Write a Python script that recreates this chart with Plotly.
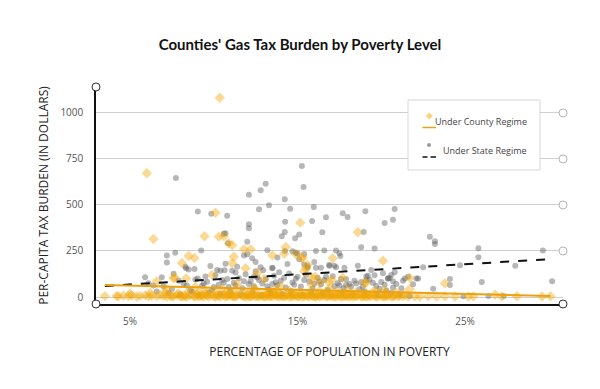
import plotly.graph_objects as go

# ---------------- data ----------------
# Under State Regime (gray circles): (percent in poverty, per-capita burden $)
state_points = [
    (7.74, 647), (9.05, 464), (9.85, 453), (10.8, 441), (12.1, 556), (12.8, 580), (13.1, 616),
    (12.7, 477), (13.3, 498), (12.1, 395), (12.1, 373), (15.26, 712), (15.36, 598), (14.24, 531),
    (14.56, 480), (15.97, 489), (14.26, 409), (14.24, 353), (14.06, 330), (14.86, 319), (15.1, 339),
    (15.87, 413), (16.7, 433), (16.48, 352), (17.7, 455), (17.99, 435), (10.6, 344), (10.7, 346),
    (10.85, 292), (7.2, 225), (7.2, 187), (7.7, 241), (8.3, 165), (8.5, 150), (8.85, 152),
    (9.25, 252), (10.7, 181), (9.8, 168), (11.8, 226), (12.0, 232), (12.5, 190), (13.2, 254),
    (14.25, 250), (12.8, 161), (12.95, 145), (13.5, 159), (14.7, 248), (14.9, 239), (15.4, 234),
    (15.0, 236), (16.1, 250), (16.6, 252), (17.3, 252), (17.5, 237), (15.4, 176), (15.6, 168),
    (16.1, 159), (16.4, 159), (16.9, 170), (17.2, 170), (17.56, 223), (19.05, 466), (20.8, 478),
    (20.7, 420), (20.2, 402), (18.95, 353), (18.8, 270), (19.6, 263), (22.9, 328), (23.2, 303),
    (23.2, 288), (25.8, 265), (25.8, 216), (29.65, 252), (28.0, 170), (22.5, 161), (24.7, 172),
    (22.2, 100), (21.9, 69), (24.1, 98), (24.1, 65), (26.0, 82), (30.2, 85), (23.1, 45),
    (12.0, 300), (5.9, 107), (6.9, 107), (6.1, 75), (6.4, 62), (7.6, 126), (8.35, 156),
    (9.5, 112), (9.05, 100), (10.2, 147), (10.4, 143), (10.65, 145), (11.1, 142), (11.3, 133),
    (20.8, 134), (20.4, 101), (21.4, 101), (21.6, 110), (13.5, 156), (17.8, 159), (17.3, 161),
    (16.9, 174), (15.6, 159), (19.1, 112), (19.2, 115), (22.1, 101), (20.5, 103), (20.6, 120),
    (20.7, 85), (19.9, 45), (17.75, 47), (17.9, 65), (18.1, 70), (18.2, 56), (18.9, 56),
    (19.5, 78), (18.6, 170), (19.4, 147), (20.1, 129), (20.4, 101), (12.3, 210), (13.8, 215),
    (21.7, 5), (26.4, 5), (27.3, 6), (24.9, 4),
    (7.0, 58), (7.5, 44), (7.9, 88), (8.2, 72), (8.6, 36), (8.9, 95), (9.3, 61), (9.6, 83),
    (9.9, 40), (10.1, 118), (10.3, 66), (10.5, 92), (10.9, 54), (11.2, 77), (11.5, 102),
    (11.7, 48), (11.9, 123), (12.2, 86), (12.4, 59), (12.6, 108), (12.9, 73), (13.1, 96),
    (13.3, 41), (13.6, 115), (13.8, 64), (14.0, 88), (14.3, 52), (14.5, 128), (14.7, 79),
    (14.9, 99), (15.2, 57), (15.5, 121), (15.7, 84), (15.9, 46), (16.2, 105), (16.4, 68),
    (16.6, 93), (16.8, 38), (17.1, 113), (17.4, 75), (17.6, 98), (18.4, 88), (18.7, 42),
    (19.3, 94), (19.7, 60), (20.0, 82), (20.3, 35), (20.9, 70), (21.2, 48),
    (6.6, 30), (7.3, 22), (8.0, 15), (8.7, 28), (9.1, 12), (9.7, 25), (10.4, 18), (11.0, 30),
    (11.6, 14), (12.3, 26), (12.8, 10), (13.4, 22), (14.1, 17), (14.6, 31), (15.3, 12),
    (15.8, 27), (16.5, 20), (17.0, 9), (17.7, 24), (18.3, 16), (19.0, 29), (19.8, 11),
    (20.6, 22), (21.1, 14), (12.5, 140), (13.9, 135), (11.4, 165), (14.4, 180), (16.0, 190),
    (15.1, 205),
    (8.4, 62), (9.4, 74), (10.0, 55), (10.8, 98), (11.3, 62), (11.8, 85), (12.1, 70),
    (12.7, 92), (13.2, 58), (13.7, 80), (14.2, 104), (14.8, 66), (15.4, 92), (16.0, 72),
    (16.7, 110), (17.2, 58), (17.9, 96), (18.5, 74), (19.1, 90), (19.6, 118), (20.2, 66),
    (20.7, 52), (21.3, 88), (10.6, 78), (12.4, 112), (13.5, 70), (15.0, 110), (16.3, 84),
    (17.5, 62), (18.8, 82),
]

# Under County Regime (yellow diamonds)
county_points = [
    (10.36, 1083), (6.0, 672), (6.4, 315), (10.1, 458), (15.16, 404), (9.45, 330), (10.3, 328),
    (10.6, 330), (11.1, 281), (10.9, 292), (8.5, 223), (8.85, 212), (8.1, 185), (11.2, 219),
    (11.1, 183), (11.8, 259), (12.2, 259), (11.9, 156), (13.5, 226), (14.2, 235), (14.3, 272),
    (14.9, 234), (15.26, 210), (15.3, 216), (17.1, 210), (18.6, 352), (20.1, 197), (21.7, 103),
    (21.7, 43), (23.8, 74), (6.6, 85), (7.65, 107), (8.35, 101), (7.6, 101), (19.1, 78),
    (19.0, 76), (17.7, 105), (15.5, 156), (15.6, 174), (15.4, 138), (15.85, 105), (16.05, 110),
    (16.35, 83), (16.85, 83), (17.05, 92), (15.85, 65), (9.9, 120), (12.6, 130), (13.0, 98),
    (11.4, 70), (14.0, 60), (10.5, 45), (8.9, 55), (7.2, 40), (12.4, 48), (18.0, 40),
    (20.2, 35), (19.5, 28), (16.9, 48), (13.7, 36),
    # dense band near zero
    (3.5, 5), (4.2, 6), (4.3, 4), (4.6, 7), (4.9, 5), (5.1, 8), (5.4, 3), (5.6, 6), (5.9, 9),
    (6.1, 4), (6.3, 7), (6.6, 5), (6.8, 10), (7.0, 6), (7.2, 3), (7.4, 8), (7.6, 5), (7.8, 11),
    (8.0, 4), (8.2, 7), (8.4, 2), (8.6, 9), (8.8, 5), (9.0, 12), (9.2, 6), (9.4, 3), (9.6, 8),
    (9.8, 14), (10.0, 5), (10.2, 9), (10.4, 3), (10.6, 11), (10.8, 6), (11.0, 15), (11.2, 4),
    (11.4, 8), (11.6, 12), (11.8, 5), (12.0, 10), (12.2, 3), (12.4, 13), (12.6, 6), (12.8, 9),
    (13.0, 4), (13.2, 11), (13.4, 7), (13.6, 14), (13.8, 5), (14.0, 9), (14.2, 3), (14.4, 12),
    (14.6, 6), (14.8, 10), (15.0, 4), (15.2, 13), (15.4, 7), (15.6, 5), (15.8, 11), (16.0, 3),
    (16.2, 9), (16.4, 6), (16.6, 12), (16.8, 4), (17.0, 8), (17.2, 5), (17.4, 10), (17.6, 3),
    (17.8, 7), (18.0, 5), (18.2, 9), (18.4, 4), (18.6, 6), (18.8, 3), (19.0, 8), (19.2, 5),
    (19.4, 4), (19.6, 7), (19.8, 3), (20.0, 6), (20.2, 4), (20.4, 5), (20.6, 3), (20.8, 6),
    (21.0, 4), (21.3, 5), (21.6, 3), (22.0, 4), (22.3, 3), (22.8, 4), (23.3, 3), (23.8, 4),
    (24.4, 3), (25.2, 3), (25.5, 4), (26.8, 12), (27.2, 3), (28.1, 4), (29.6, 3), (30.1, 4),
    (8.1, 2), (9.1, 4), (10.1, 1), (11.1, 3), (12.1, 2), (13.1, 1), (14.1, 4), (15.1, 2),
    (16.1, 1), (17.1, 3), (18.1, 2), (19.1, 1), (20.1, 2), (12.7, 3), (13.5, 2), (14.5, 1),
    (7.5, 2), (8.3, 5), (8.9, 1), (9.3, 7), (9.7, 2), (10.3, 6), (10.7, 1), (10.9, 8),
    (11.3, 2), (11.7, 6), (11.9, 1), (12.3, 7), (12.5, 2), (12.9, 5), (13.3, 3), (13.7, 8),
    (13.9, 2), (14.3, 6), (14.7, 3), (14.9, 7), (15.3, 1), (15.5, 9), (15.7, 2), (15.9, 6),
    (16.3, 3), (16.5, 8), (16.7, 2), (16.9, 6), (17.3, 1), (17.5, 7), (17.7, 2), (17.9, 5),
    (18.3, 3), (18.5, 7), (18.9, 2), (19.3, 6), (19.7, 2), (20.3, 5), (20.7, 2), (21.1, 6),
    (9.5, 18), (10.9, 22), (12.1, 17), (13.3, 26), (14.7, 20), (16.1, 16), (17.5, 22), (18.8, 17),
    (5.0, 18), (6.2, 22), (7.1, 26), (7.9, 19), (8.5, 31), (9.1, 24), (9.5, 36), (10.1, 28),
    (10.7, 20), (11.3, 33), (11.9, 25), (12.5, 38), (13.1, 22), (13.5, 30), (13.9, 19),
    (14.5, 34), (15.1, 27), (15.7, 21), (16.3, 32), (16.7, 24), (17.3, 29), (17.9, 18),
    (18.5, 26), (19.1, 20), (19.7, 31), (20.3, 19), (20.9, 24), (21.4, 14),
]

# least-squares trend lines (end points)
trend_poverty = [3.5, 30.1]
county_trend = [65, 5]
state_trend = [60, 206]

x_ticks = [5, 15, 25]
x_tick_labels = ["5%", "15%", "25%"]
y_ticks = [0, 250, 500, 750, 1000]

state_poverty = [p[0] for p in state_points]
state_burden = [p[1] for p in state_points]
county_poverty = [p[0] for p in county_points]
county_burden = [p[1] for p in county_points]

# ---------------- figure ----------------
L, R, T, B = 96, 563, 87, 304  # plot area in pixels


def pxx(v):
    return (v - L) / (R - L)


def pxy(v):
    return (B - v) / (B - T)


fig = go.Figure()
fig.add_trace(go.Scatter(
    x=state_poverty, y=state_burden, mode="markers",
    marker=dict(symbol="circle", size=6, color="rgba(95,95,95,0.45)", line=dict(width=0)),
    name="Under State Regime", showlegend=False, cliponaxis=False))
fig.add_trace(go.Scatter(
    x=county_poverty, y=county_burden, mode="markers",
    marker=dict(symbol="diamond", size=8, color="rgba(240,165,0,0.42)", line=dict(width=0)),
    name="Under County Regime", showlegend=False, cliponaxis=False))
fig.add_trace(go.Scatter(
    x=trend_poverty, y=state_trend, mode="lines",
    line=dict(color="#111111", width=2, dash="dash"), showlegend=False))
fig.add_trace(go.Scatter(
    x=trend_poverty, y=county_trend, mode="lines",
    line=dict(color="#EBA20E", width=2), showlegend=False))

shapes = []
# hollow circles at gridline ends
for v in y_ticks[1:]:
    shapes.append(dict(type="circle", xref="paper", yref="y", xsizemode="pixel", ysizemode="pixel",
                       xanchor=1, yanchor=v, x0=-4, x1=4, y0=-4, y1=4,
                       fillcolor="white", line=dict(color="#b5b5b5", width=1), layer="above"))
# axis end circles
for (ax, ay) in [(0, 0), (0, 1), (1, 0)]:
    shapes.append(dict(type="circle", xref="paper", yref="paper", xsizemode="pixel", ysizemode="pixel",
                       xanchor=ax, yanchor=ay, x0=-4, x1=4, y0=-4, y1=4,
                       fillcolor="white", line=dict(color="#333333", width=1), layer="above"))
# legend box
shapes.append(dict(type="rect", xref="paper", yref="paper",
                   x0=pxx(408), x1=pxx(540), y0=pxy(170), y1=pxy(100),
                   fillcolor="white", line=dict(color="#d6d6d6", width=1), layer="above"))
# legend: diamond
cx, cy, r = 429.3, 116, 3.5
shapes.append(dict(type="path", xref="paper", yref="paper",
                   path=f"M {pxx(cx)},{pxy(cy - r)} L {pxx(cx + r)},{pxy(cy)} L {pxx(cx)},{pxy(cy + r)} L {pxx(cx - r)},{pxy(cy)} Z",
                   fillcolor="#F7D37C", line=dict(width=0), layer="above"))
shapes.append(dict(type="line", xref="paper", yref="paper",
                   x0=pxx(422.5), x1=pxx(436), y0=pxy(127.5), y1=pxy(127.5),
                   line=dict(color="#EBA20E", width=1.5), layer="above"))
# legend: circle + dashes
shapes.append(dict(type="circle", xref="paper", yref="paper", xsizemode="pixel", ysizemode="pixel",
                   xanchor=pxx(429), yanchor=pxy(145), x0=-2, x1=2, y0=-2, y1=2,
                   fillcolor="#9a9a9a", line=dict(width=0), layer="above"))
shapes.append(dict(type="line", xref="paper", yref="paper",
                   x0=pxx(422.5), x1=pxx(427.5), y0=pxy(157), y1=pxy(157),
                   line=dict(color="#111111", width=1.5), layer="above"))
shapes.append(dict(type="line", xref="paper", yref="paper",
                   x0=pxx(430.5), x1=pxx(436), y0=pxy(157), y1=pxy(157),
                   line=dict(color="#111111", width=1.5), layer="above"))

annotations = [
    dict(text="Under County Regime", xref="paper", yref="paper", x=pxx(528.5), y=pxy(121),
         xanchor="right", yanchor="middle", showarrow=False,
         font=dict(family="Open Sans", size=9, color="#444")),
    dict(text="Under State Regime", xref="paper", yref="paper", x=pxx(528.5), y=pxy(150),
         xanchor="right", yanchor="middle", showarrow=False,
         font=dict(family="Open Sans", size=9, color="#444")),
]

fig.update_layout(
    width=600, height=389, autosize=False,
    margin=dict(l=L, r=600 - R, t=T, b=389 - B, pad=0),
    paper_bgcolor="white", plot_bgcolor="white",
    title=dict(text="<b>Counties' Gas Tax Burden by Poverty Level</b>", x=0.5, xanchor="center",
               y=1 - 45 / 389, yanchor="middle", yref="container",
               font=dict(family="Lato", size=15, color="#111")),
    shapes=shapes, annotations=annotations,
    showlegend=False,
    xaxis=dict(range=[2.97, 30.85], tickvals=x_ticks, ticktext=x_tick_labels,
               showgrid=False, zeroline=False, showline=True, linecolor="#111", linewidth=1.5,
               ticks="", ticklabelstandoff=7,
               tickfont=dict(family="Open Sans", size=10, color="#555"),
               title=dict(text="PERCENTAGE OF POPULATION IN POVERTY", standoff=21,
                          font=dict(family="Open Sans", size=12, color="#222"))),
    yaxis=dict(range=[-38, 1141], tickvals=y_ticks,
               showgrid=True, gridcolor="#cfcfcf", gridwidth=1, zeroline=False,
               showline=True, linecolor="#111", linewidth=1.5,
               ticks="", ticklabelstandoff=9,
               tickfont=dict(family="Open Sans", size=10, color="#555"),
               title=dict(text="PER-CAPITA TAX BURDEN (IN DOLLARS)", standoff=9,
                          font=dict(family="Open Sans", size=12, color="#222"))),
)

fig.write_html("out.html", config={"displayModeBar": False},
               post_script="document.body.style.margin='0';")
